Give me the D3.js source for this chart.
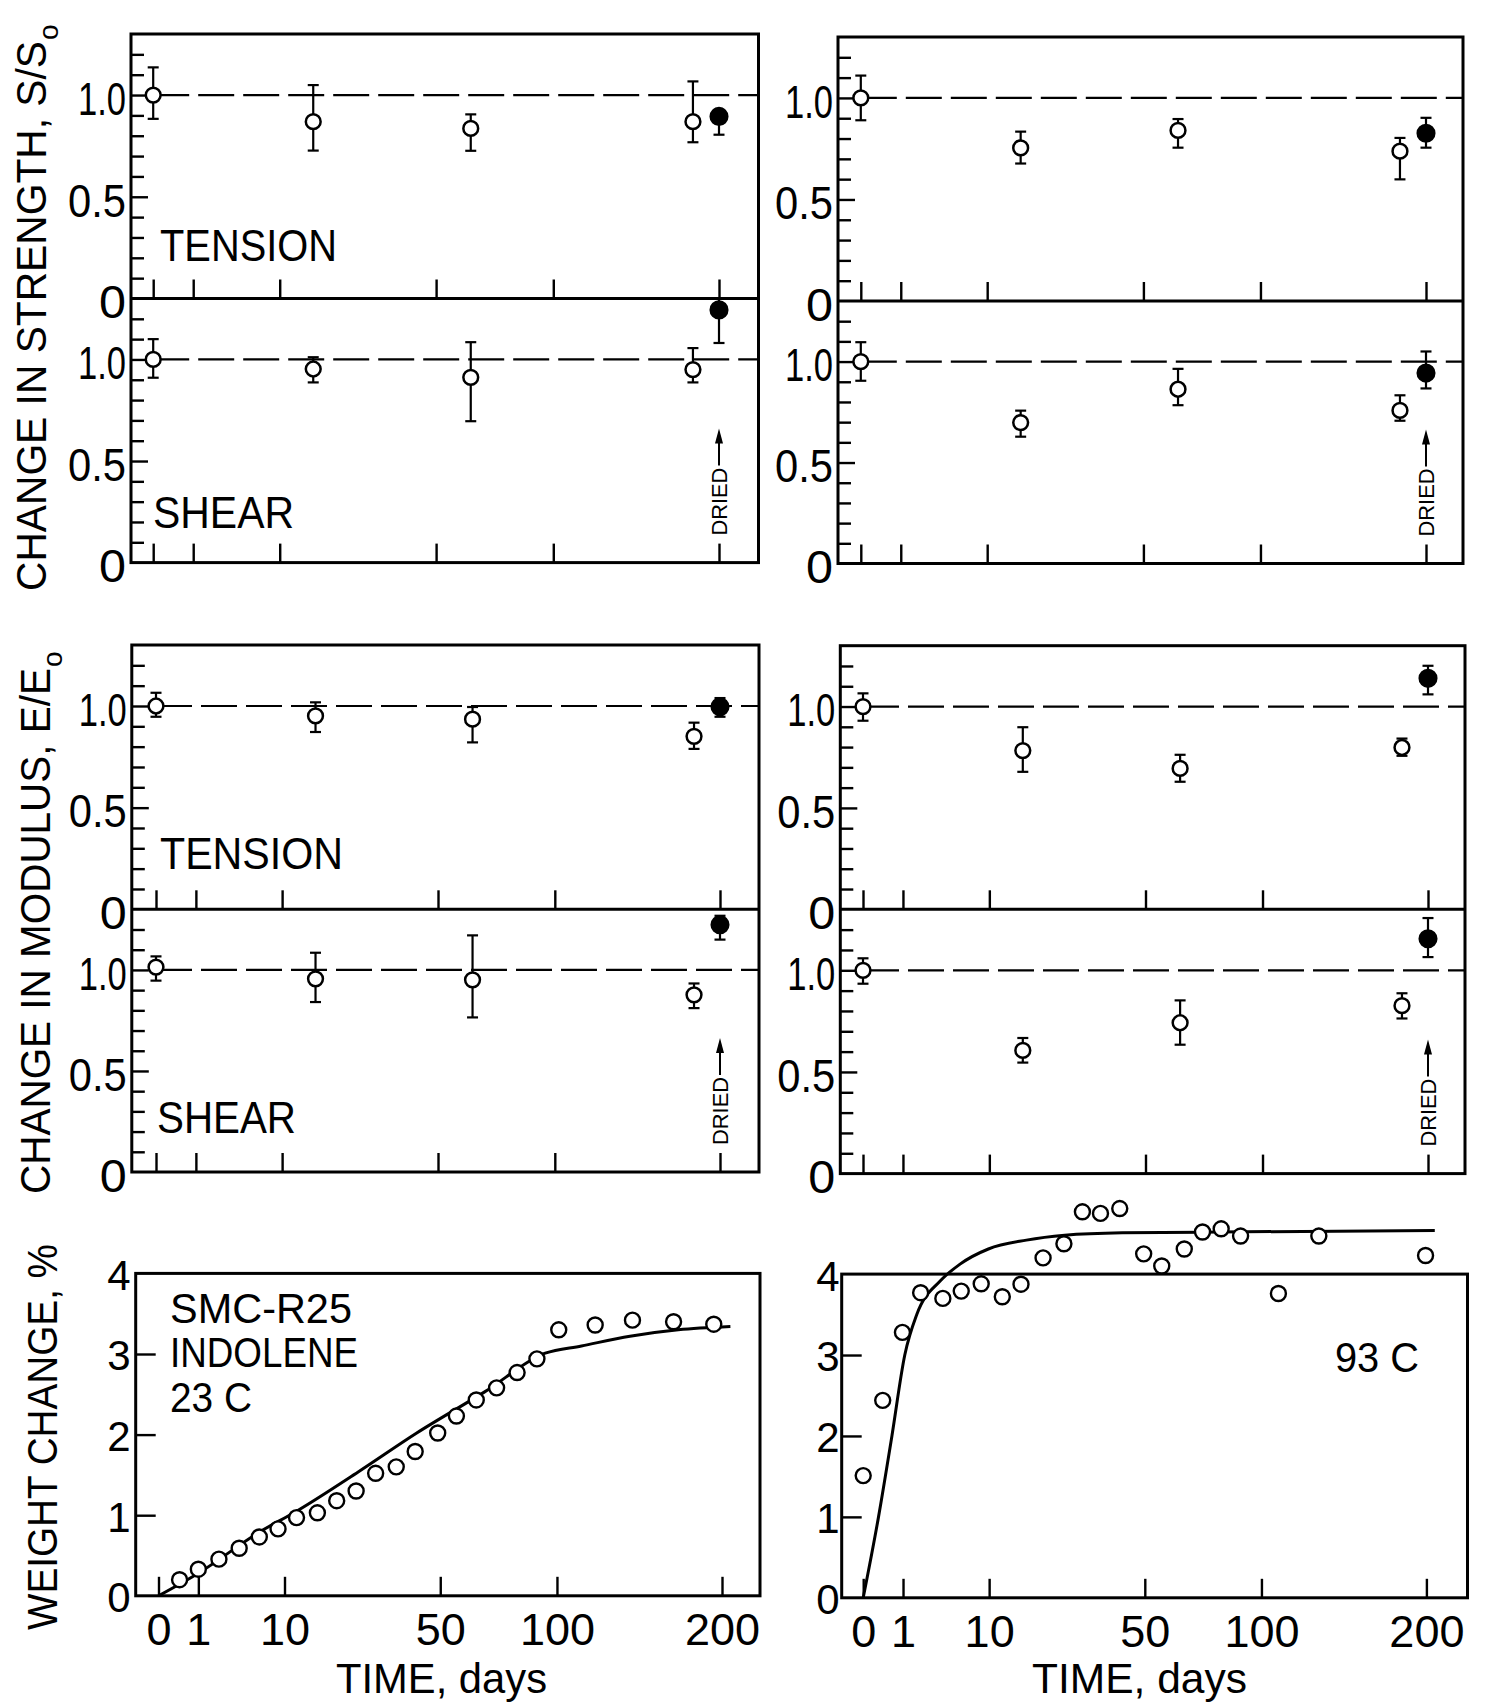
<!DOCTYPE html>
<html><head><meta charset="utf-8">
<script src="https://cdn.jsdelivr.net/npm/d3@7"></script>
<style>
html,body{margin:0;padding:0;background:#fff;}
svg{display:block;background:#fff;}
text{font-family:"Liberation Sans",Arial,sans-serif;fill:#000;}
</style></head><body>
<script>
// ================= DATA =================
// exposure times (days); the last entry is the re-dried specimen (filled symbol)
const exposureDays = [0, 16, 63, 182, 200];
const driedFlag    = [false, false, false, false, true];
const xTickDays    = [0, 1, 10, 50, 100, 200];
const ratioMinorTicks = [0.1,0.2,0.3,0.4,0.6,0.7,0.8,0.9,1.1,1.2];
const ratioMajorTicks = [0.5, 1.0];
const ratioTickLabels = [0, 0.5, 1.0];
const weightTicks      = [1, 2, 3];
const weightTickLabels = [0, 1, 2, 3, 4];

// Change in strength S/S0 — 23 C
const sTen23   = [1.00, 0.869, 0.836, 0.869, 0.895];
const sTen23Lo = [0.883, 0.727, 0.726, 0.768, 0.805];
const sTen23Hi = [1.136, 1.049, 0.905, 1.067, 0.927];
const sSh23    = [1.00, 0.953, 0.912, 0.950, 1.244];
const sSh23Lo  = [0.910, 0.887, 0.696, 0.887, 1.081];
const sSh23Hi  = [1.100, 1.011, 1.085, 1.056, 1.300];
// Change in strength S/S0 — 93 C
const sTen93   = [1.00, 0.754, 0.840, 0.738, 0.826];
const sTen93Lo = [0.890, 0.677, 0.755, 0.599, 0.755];
const sTen93Hi = [1.110, 0.834, 0.896, 0.803, 0.902];
const sSh93    = [1.00, 0.698, 0.863, 0.758, 0.943];
const sSh93Lo  = [0.905, 0.628, 0.784, 0.707, 0.867];
const sSh93Hi  = [1.096, 0.757, 0.964, 0.833, 1.050];
// Change in modulus E/E0 — 23 C
const eTen23   = [1.00, 0.951, 0.935, 0.851, 0.996];
const eTen23Lo = [0.947, 0.872, 0.821, 0.789, 0.947];
const eTen23Hi = [1.065, 1.018, 0.995, 0.918, 1.039];
const eSh23    = [1.014, 0.956, 0.951, 0.877, 1.224];
const eSh23Lo  = [0.947, 0.841, 0.765, 0.811, 1.150];
const eSh23Hi  = [1.067, 1.085, 1.171, 0.933, 1.268];
// Change in modulus E/E0 — 93 C
const eTen93   = [1.00, 0.783, 0.695, 0.798, 1.139];
const eTen93Lo = [0.930, 0.678, 0.629, 0.757, 1.060];
const eTen93Hi = [1.065, 0.898, 0.762, 0.842, 1.201];
const eSh93    = [1.00, 0.606, 0.742, 0.826, 1.155];
const eSh93Lo  = [0.934, 0.546, 0.634, 0.763, 1.065];
const eSh93Hi  = [1.059, 0.667, 0.852, 0.887, 1.257];

// Weight change, % — 23 C
const wt23Days = [0.28, 1.0, 2.3, 4.1, 6.4, 9.0, 12.0, 15.9, 20.0, 24.6, 29.7, 35.6, 41.5, 49.1, 55.9, 63.6, 72.0, 81.0, 90.2, 100.9, 120.1, 141.5, 167.1, 194.2];
const wt23     = [0.20, 0.33, 0.455, 0.59, 0.73, 0.83, 0.97, 1.03, 1.18, 1.30, 1.52, 1.60, 1.79, 2.02, 2.23, 2.43, 2.58, 2.77, 2.94, 3.30, 3.36, 3.42, 3.40, 3.37];
const wt23FitDays = [0, 1.0, 6.4, 12, 25.2, 42, 67, 94.2, 112.7, 140, 170.2, 206];
const wt23Fit     = [0, 0.28, 0.79, 1.05, 1.54, 2.02, 2.53, 3.01, 3.10, 3.22, 3.30, 3.34];
// Weight change, % — 93 C
const wt93Days = [0, 0.24, 0.97, 2.08, 4.0, 6.06, 8.78, 12.2, 15.7, 20.4, 25.4, 30.3, 35.5, 41.5, 49.6, 56.2, 65.0, 72.6, 80.8, 89.8, 108.7, 130.9, 199.4];
const wt93     = [1.51, 2.44, 3.28, 3.77, 3.70, 3.79, 3.88, 3.72, 3.875, 4.20, 4.375, 4.77, 4.75, 4.81, 4.25, 4.10, 4.31, 4.52, 4.56, 4.47, 3.76, 4.47, 4.23];
const wt93FitDays = [0, 0.148, 0.52, 1.09, 1.81, 3.78, 5.87, 9.88, 16.8, 25.6, 42.3, 79.2, 206];
const wt93Fit     = [0, 1.0, 2.0, 3.0, 3.5, 3.92, 4.12, 4.31, 4.42, 4.48, 4.51, 4.52, 4.54];

// ================= LAYOUT =================
const W = 1489, H = 1707;
const svg = d3.select("body").append("svg").attr("width", W).attr("height", H);

const FONT = '"Liberation Sans",Arial,sans-serif';

function styleAxis(g, sw) {
  g.select(".domain").remove();
  g.selectAll("line").attr("stroke", "#000").attr("stroke-width", sw);
  g.attr("font-family", FONT);
}

function fitText(sel, len) {
  return sel.attr("textLength", len).attr("lengthAdjust", "spacingAndGlyphs");
}

function driedNote(g, xc, bottom) {
  fitText(g.append("text")
    .attr("transform", `translate(${xc + 8},${bottom - 27}) rotate(-90)`)
    .attr("font-size", 22).text("DRIED"), 68);
  g.append("line").attr("x1", xc).attr("x2", xc)
    .attr("y1", bottom - 97).attr("y2", bottom - 122)
    .attr("stroke", "#000").attr("stroke-width", 2);
  g.append("path")
    .attr("d", `M${xc},${bottom - 134}L${xc - 4},${bottom - 119}L${xc + 4},${bottom - 119}Z`)
    .attr("fill", "#000");
}

function ratioSub(g, p, x, y, top, bottom, vals, lo, hi, label, isShear) {
  const left = p.x[0], right = p.x[1];
  // minor / major y ticks (inside, on left edge)
  const a1 = g.append("g").attr("transform", `translate(${left},0)`)
    .call(d3.axisRight(y).tickValues(ratioMinorTicks).tickSize(13).tickFormat(""));
  styleAxis(a1, 2.4);
  const a2 = g.append("g").attr("transform", `translate(${left},0)`)
    .call(d3.axisRight(y).tickValues(ratioMajorTicks).tickSize(17).tickFormat(""));
  styleAxis(a2, 2.4);
  // y labels (narrow lettering)
  const a3 = g.append("g").attr("transform", `translate(${left},0)`)
    .call(d3.axisLeft(y).tickValues(ratioTickLabels).tickSize(0).tickPadding(5)
      .tickFormat(d => d === 0 ? "0" : d3.format(".1f")(d)));
  styleAxis(a3, 0);
  a3.attr("font-size", 46);
  a3.selectAll("text").attr("dy", "0.42em").attr("fill", "#000")
    .attr("textLength", d => d === 0 ? 27 : (d === 1 ? 48 : 58))
    .attr("lengthAdjust", "spacingAndGlyphs");
  // x ticks (inside, bottom edge)
  const a4 = g.append("g").attr("transform", `translate(0,${bottom})`)
    .call(d3.axisTop(x).tickValues(xTickDays).tickSize(19).tickFormat(""));
  styleAxis(a4, 2.4);
  // dashed reference at 1.0
  g.append("line").attr("x1", x(0)).attr("x2", right)
    .attr("y1", y(1)).attr("y2", y(1))
    .attr("stroke", "#000").attr("stroke-width", 2.2)
    .attr("stroke-dasharray", "36,9");
  // label
  if (label) {
    fitText(g.append("text").attr("x", label.x).attr("y", label.y)
      .attr("font-size", 45).text(label.text), label.len);
  }
  if (isShear) driedNote(g, x(200), bottom);
  // error bars
  const pts = exposureDays.map((d, i) => ({d, v: vals[i], lo: lo[i], hi: hi[i], f: driedFlag[i]}));
  const eb = g.append("g").attr("stroke", "#000").attr("stroke-width", 2.2);
  pts.forEach(q => {
    const cx = x(q.d);
    eb.append("line").attr("x1", cx).attr("x2", cx).attr("y1", y(q.lo)).attr("y2", y(q.hi));
    eb.append("line").attr("x1", cx - 5.5).attr("x2", cx + 5.5).attr("y1", y(q.lo)).attr("y2", y(q.lo));
    eb.append("line").attr("x1", cx - 5.5).attr("x2", cx + 5.5).attr("y1", y(q.hi)).attr("y2", y(q.hi));
  });
  g.append("g").selectAll("circle").data(pts).join("circle")
    .attr("cx", q => x(q.d)).attr("cy", q => y(q.v))
    .attr("r", q => q.f ? 8.3 : 7.4)
    .attr("fill", q => q.f ? "#000" : "#fff")
    .attr("stroke", "#000").attr("stroke-width", 2.5);
}

function ratioPanel(p, ten, sh, tenLabel, shLabel) {
  const g = svg.append("g");
  const x = d3.scaleSqrt().domain([0, 200]).range(p.xr);
  const yT = d3.scaleLinear().domain([0, 1.3]).range([p.y[1], p.y[0]]);
  const yS = d3.scaleLinear().domain([0, 1.3]).range([p.y[2], p.y[1]]);
  ratioSub(g, p, x, yT, p.y[0], p.y[1], ten[0], ten[1], ten[2], tenLabel, false);
  ratioSub(g, p, x, yS, p.y[1], p.y[2], sh[0], sh[1], sh[2], shLabel, true);
  g.append("rect").attr("x", p.x[0]).attr("y", p.y[0])
    .attr("width", p.x[1] - p.x[0]).attr("height", p.y[2] - p.y[0])
    .attr("fill", "none").attr("stroke", "#000").attr("stroke-width", 3);
  g.append("line").attr("x1", p.x[0]).attr("x2", p.x[1])
    .attr("y1", p.y[1]).attr("y2", p.y[1])
    .attr("stroke", "#000").attr("stroke-width", 3);
}

function weightPanel(p, days, vals, fitDays, fitVals, labelPad) {
  const g = svg.append("g");
  const x = d3.scaleSqrt().domain([0, 200]).range(p.xr);
  const y = d3.scaleLinear().domain([0, 4]).range([p.y[1], p.y[0]]);
  const a1 = g.append("g").attr("transform", `translate(${p.x[0]},0)`)
    .call(d3.axisRight(y).tickValues(weightTicks).tickSize(20).tickFormat(""));
  styleAxis(a1, 2.4);
  const a2 = g.append("g").attr("transform", `translate(${p.x[0]},0)`)
    .call(d3.axisLeft(y).tickValues(weightTickLabels).tickSize(0).tickPadding(labelPad).tickFormat(d3.format("d")));
  styleAxis(a2, 0);
  a2.attr("font-size", 42);
  a2.selectAll("text").attr("dy", "0.38em").attr("fill", "#000");
  const a3 = g.append("g").attr("transform", `translate(0,${p.y[1]})`)
    .call(d3.axisTop(x).tickValues(xTickDays).tickSize(19).tickFormat(""));
  styleAxis(a3, 2.4);
  const a4 = g.append("g").attr("transform", `translate(0,${p.y[1]})`)
    .call(d3.axisBottom(x).tickValues(xTickDays).tickSize(0).tickPadding(17).tickFormat(d3.format("d")));
  styleAxis(a4, 0);
  a4.attr("font-size", 45);
  a4.selectAll("text").attr("fill", "#000");
  // frame
  g.append("rect").attr("x", p.x[0]).attr("y", p.y[0])
    .attr("width", p.x[1] - p.x[0]).attr("height", p.y[1] - p.y[0])
    .attr("fill", "none").attr("stroke", "#000").attr("stroke-width", 3);
  // fit curve
  const line = d3.line().x(d => x(d[0])).y(d => y(d[1])).curve(d3.curveMonotoneX);
  g.append("path").datum(fitDays.map((d, i) => [d, fitVals[i]]))
    .attr("d", line).attr("fill", "none").attr("stroke", "#000").attr("stroke-width", 3);
  // data points
  g.append("g").selectAll("circle").data(days.map((d, i) => [d, vals[i]])).join("circle")
    .attr("cx", d => x(d[0])).attr("cy", d => y(d[1])).attr("r", 7.5)
    .attr("fill", "#fff").attr("stroke", "#000").attr("stroke-width", 2.4);
  // x title
  fitText(g.append("text").attr("x", p.titleX).attr("y", 1693).attr("font-size", 42)
    .text("TIME, days"), p.titleLen);
  return g;
}

// ---------- panels ----------
ratioPanel({x: [131, 758.5], y: [34, 298.5, 562.6], xr: [153.2, 719]},
  [sTen23, sTen23Lo, sTen23Hi], [sSh23, sSh23Lo, sSh23Hi],
  {x: 160, y: 261, text: "TENSION", len: 177}, {x: 153, y: 528, text: "SHEAR", len: 141});
ratioPanel({x: [838, 1463], y: [37, 301, 563.5], xr: [860.8, 1426]},
  [sTen93, sTen93Lo, sTen93Hi], [sSh93, sSh93Lo, sSh93Hi], null, null);
ratioPanel({x: [131.8, 759], y: [645, 909.3, 1172], xr: [156, 720]},
  [eTen23, eTen23Lo, eTen23Hi], [eSh23, eSh23Lo, eSh23Hi],
  {x: 160, y: 869, text: "TENSION", len: 183}, {x: 157, y: 1133, text: "SHEAR", len: 139});
ratioPanel({x: [840.3, 1465], y: [645.7, 909.3, 1173.6], xr: [863, 1428]},
  [eTen93, eTen93Lo, eTen93Hi], [eSh93, eSh93Lo, eSh93Hi], null, null);

const wl = weightPanel({x: [135.7, 760], y: [1273.4, 1595.8], xr: [158.5, 722], titleX: 336, titleLen: 211},
  wt23Days, wt23, wt23FitDays, wt23Fit, 5);
const wr = weightPanel({x: [841.7, 1467.5], y: [1274.1, 1597.8], xr: [863.2, 1426.4], titleX: 1032, titleLen: 215},
  wt93Days, wt93, wt93FitDays, wt93Fit, 2);

// annotations in weight panels
fitText(wl.append("text").attr("x", 170).attr("y", 1323).attr("font-size", 43).text("SMC-R25"), 182);
fitText(wl.append("text").attr("x", 170).attr("y", 1367).attr("font-size", 43).text("INDOLENE"), 188);
fitText(wl.append("text").attr("x", 170).attr("y", 1412).attr("font-size", 43).text("23 C"), 82);
fitText(wr.append("text").attr("x", 1335).attr("y", 1372).attr("font-size", 43).text("93 C"), 84);

// ---------- rotated y titles ----------
function yTitle(xb, yStart, main, len, sub) {
  const t = svg.append("text").attr("transform", `translate(${xb},${yStart}) rotate(-90)`)
    .attr("font-size", 43);
  fitText(t.append("tspan").text(main), len);
  if (sub) t.append("tspan").attr("font-size", 28).attr("dy", 12).attr("dx", 1).text(sub);
}
yTitle(46, 591, "CHANGE IN STRENGTH, S/S", 550, "o");
yTitle(50, 1194, "CHANGE IN MODULUS, E/E", 526, "o");
yTitle(57, 1630, "WEIGHT CHANGE, %", 386, null);
</script>
</body></html>
